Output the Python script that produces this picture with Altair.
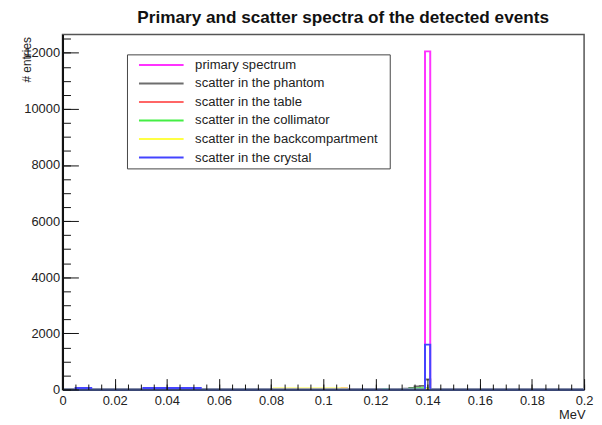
import altair as alt
import pandas as pd

# ---------------- data ----------------
series_names = [
    "primary spectrum",
    "scatter in the phantom",
    "scatter in the table",
    "scatter in the collimator",
    "scatter in the backcompartment",
    "scatter in the crystal",
]
series_colors = ["#ff33ff", "#6e6e6e", "#ff6666", "#44ee44", "#ffff44", "#4444ff"]

# histogram outlines: bin edge (MeV) where the count changes, and the count from that edge on
primary_edges = [0.0, 0.139, 0.141, 0.2]
primary_counts = [0, 12050, 0, 0]

phantom_edges = [0.0, 0.069, 0.071, 0.129, 0.131, 0.133, 0.135, 0.137, 0.139, 0.141, 0.2]
phantom_counts = [0, 15, 0, 15, 30, 50, 110, 130, 360, 0, 0]

table_edges = [0.0, 0.107, 0.109, 0.111, 0.2]
table_counts = [0, 40, 20, 0, 0]

collimator_edges = [0.0, 0.123, 0.125, 0.133, 0.135, 0.137, 0.139, 0.141, 0.2]
collimator_counts = [0, 15, 0, 25, 40, 45, 40, 0, 0]

back_edges = [0.0, 0.005, 0.011, 0.031, 0.053, 0.081, 0.109, 0.139, 0.141, 0.2]
back_counts = [0, 10, 0, 20, 0, 40, 0, 20, 0, 0]

crystal_edges = [0.0, 0.005, 0.011, 0.031, 0.053, 0.139, 0.141, 0.2]
crystal_counts = [0, 50, 0, 55, 0, 1600, 0, 0]

x_major = [0, 0.02, 0.04, 0.06, 0.08, 0.1, 0.12, 0.14, 0.16, 0.18, 0.2]
x_minor = [round(i * 0.005, 3) for i in range(41)]
y_major = [0, 2000, 4000, 6000, 8000, 10000, 12000]
y_minor = [i * 500 for i in range(26)]

title_text = "Primary and scatter spectra of the detected events"
x_title = "MeV"
y_title = "# entries"

# ---------------- chart ----------------
FONT = "Liberation Sans"
W, H = 526, 358

all_edges = [primary_edges, phantom_edges, table_edges, collimator_edges, back_edges, crystal_edges]
all_counts = [primary_counts, phantom_counts, table_counts, collimator_counts, back_counts, crystal_counts]

x_scale = alt.Scale(domain=[0, 0.2], nice=False, zero=False)
y_scale = alt.Scale(domain=[0, 12650], nice=False)
color_scale = alt.Scale(domain=series_names, range=series_colors)

legend = alt.Legend(
    orient="none", legendX=65, legendY=20, title=None,
    symbolType="M-30,0M222,0M-22.5,0H22.5", symbolSize=4, symbolStrokeWidth=2,
    symbolOffset=24, labelOffset=27.5, labelFont=FONT, labelFontSize=13.2,
    labelColor="#222", fillColor="white", strokeColor="#444", padding=4,
    rowPadding=4.7, labelLimit=400,
)

x_axes = [
    alt.Axis(values=x_major, format="~g", ticks=False, labelPadding=5, labelFont=FONT,
             labelFontSize=13, labelColor="#222", domainColor="#3a4775", domainWidth=2,
             grid=False, orient="bottom", zindex=1, labelFlush=False,
             title=x_title, titleFont=FONT, titleFontSize=13, titleFontWeight="normal",
             titleColor="#222", titleX=527, titleY=29, titleAlign="right",
             titleBaseline="alphabetic", titleAnchor="end"),
    alt.Axis(values=x_major, orient="top", offset=-H, labels=False, domain=False,
             tickSize=11, tickColor="#111", tickWidth=1, grid=False, title=None, zindex=1),
    alt.Axis(values=x_minor, orient="top", offset=-H, labels=False, domain=False,
             tickSize=5.5, tickColor="#111", tickWidth=1, grid=False, title=None, zindex=1),
]
y_axes = [
    alt.Axis(values=y_major, format="d", ticks=False, labelPadding=3, labelFont=FONT,
             labelFontSize=13, labelColor="#222", domainColor="#111", domainWidth=2,
             grid=False, orient="left", zindex=1, labelFlush=False,
             title=y_title, titleFont=FONT, titleFontSize=12, titleFontWeight="normal",
             titleColor="#222", titleX=-36, titleY=2, titleAlign="right", titleAngle=270,
             titleBaseline="middle", titleAnchor="end"),
    alt.Axis(values=y_major, orient="right", offset=-W, labels=False, domain=False,
             tickSize=16, tickColor="#111", tickWidth=1, grid=False, title=None, zindex=1),
    alt.Axis(values=y_minor, orient="right", offset=-W, labels=False, domain=False,
             tickSize=8, tickColor="#111", tickWidth=1, grid=False, title=None, zindex=1),
]

layers = []
for i, (name, edges, counts) in enumerate(zip(series_names, all_edges, all_counts)):
    df = pd.DataFrame({"series": name, "MeV": edges, "entries": counts})
    xa = x_axes[i] if i < 3 else None
    ya = y_axes[i] if i < 3 else None
    layer = alt.Chart(df).mark_line(interpolate="step-after", strokeWidth=2).encode(
        x=alt.X("MeV:Q", scale=x_scale, axis=xa),
        y=alt.Y("entries:Q", scale=y_scale, axis=ya),
        color=alt.Color("series:N", scale=color_scale, legend=legend),
    )
    layers.append(layer)

chart = alt.layer(*layers).resolve_axis(x="independent", y="independent").properties(
    width=W, height=H,
    title=alt.TitleParams(title_text, font=FONT, fontSize=17.3, fontWeight="bold",
                          color="#111", anchor="middle", offset=8, dx=20),
    autosize=alt.AutoSizeParams(type="none"),
    padding={"left": 55, "top": 25, "right": 10, "bottom": 32},
).configure_view(stroke="#555", strokeWidth=1.5)

chart.save("out.html", embed_options={"renderer": "svg", "actions": False})
